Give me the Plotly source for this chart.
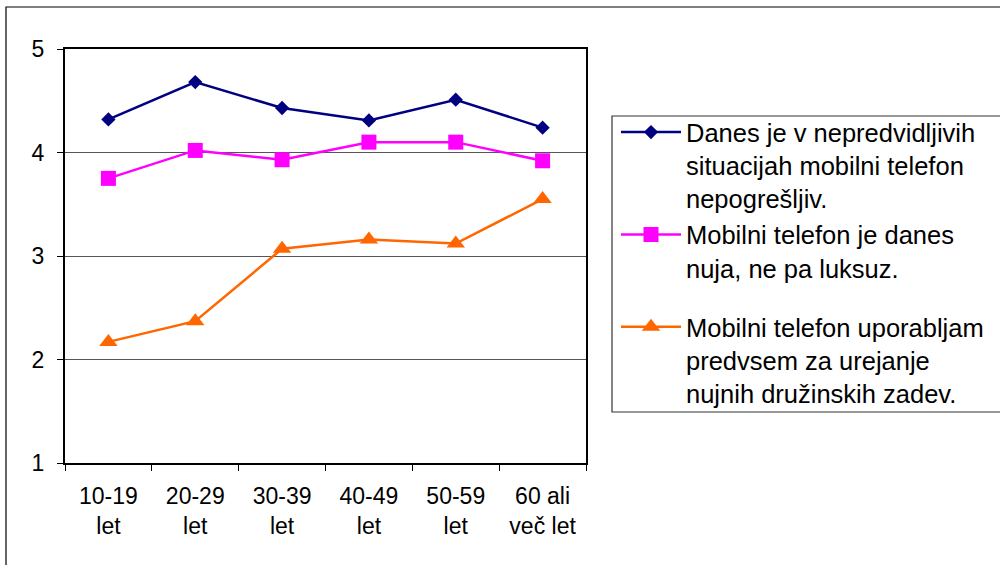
import plotly.graph_objects as go

categories = ["10-19<br>let", "20-29<br>let", "30-39<br>let", "40-49<br>let", "50-59<br>let", "60 ali<br>več let"]
series_names = [
    "Danes je v nepredvidljivih<br>situacijah mobilni telefon<br>nepogrešljiv.",
    "Mobilni telefon je danes<br>nuja, ne pa luksuz.",
    "Mobilni telefon uporabljam<br>predvsem za urejanje<br>nujnih družinskih zadev.",
]
s1 = [4.32, 4.68, 4.43, 4.31, 4.51, 4.24]
s2 = [3.75, 4.02, 3.93, 4.10, 4.10, 3.92]
s3 = [2.17, 2.37, 3.07, 3.16, 3.12, 3.55]
y_ticks = [1, 2, 3, 4, 5]

W, H = 1000, 565
L, R, T, B = 65, 586, 49, 463

def px(x):
    return (x - L) / (R - L)

def py(y):
    return (B - y) / (B - T)

FONT = "Liberation Sans, Arial, sans-serif"

fig = go.Figure()
styles = [
    dict(color="#000080", symbol="diamond", size=11, group="a"),
    dict(color="#FF00FF", symbol="square", size=15, group="a"),
    dict(color="#FF6600", symbol="triangle-up", size=16, group="b"),
]
for name, vals, st in zip(series_names, [s1, s2, s3], styles):
    fig.add_trace(go.Scatter(
        x=categories, y=vals, name=name, mode="lines+markers",
        line=dict(color=st["color"], width=2.5),
        marker=dict(symbol=st["symbol"], size=st["size"], color=st["color"]),
        legendgroup=st["group"],
    ))

fig.update_layout(
    width=W, height=H,
    margin=dict(l=L, r=W - R, t=T, b=H - B, autoexpand=False),
    paper_bgcolor="white", plot_bgcolor="white",
    font=dict(family=FONT, color="black"),
    showlegend=True,
    legend=dict(
        x=px(616), y=py(109), xanchor="left", yanchor="top",
        font=dict(size=25.5, family=FONT, color="black"),
        bgcolor="rgba(0,0,0,0)", borderwidth=0,
        valign="top", tracegroupgap=23, itemwidth=60,
    ),
    xaxis=dict(
        type="category", tickson="boundaries", range=[-0.5, len(categories) - 0.5],
        showline=True, linecolor="black", linewidth=2, mirror=True,
        ticks="outside", ticklen=6, tickcolor="black", tickwidth=1,
        tickfont=dict(size=23, family=FONT, color="black"),
        ticklabelstandoff=11,
        showgrid=False, zeroline=False,
    ),
    yaxis=dict(
        range=[1, 5], tickvals=y_ticks,
        showline=True, linecolor="black", linewidth=2, mirror=True,
        ticks="outside", ticklen=6, tickcolor="black", tickwidth=1,
        tickfont=dict(size=23, family=FONT, color="black"),
        ticklabelstandoff=8,
        showgrid=True, gridcolor="#555555", gridwidth=1, zeroline=False,
    ),
    shapes=[
        dict(type="rect", xref="paper", yref="paper",
             x0=px(6), x1=px(1010), y0=py(575), y1=py(7),
             line=dict(color="black", width=1.2), fillcolor="rgba(0,0,0,0)", layer="below"),
        dict(type="rect", xref="paper", yref="paper",
             x0=px(612), x1=px(1010), y0=py(412), y1=py(116),
             line=dict(color="#333333", width=1.2), fillcolor="white", layer="below"),
    ],
)

fig.write_html(
    "out.html",
    config={"displayModeBar": False},
    post_script="document.body.style.margin='0';document.body.style.overflow='hidden';",
)
